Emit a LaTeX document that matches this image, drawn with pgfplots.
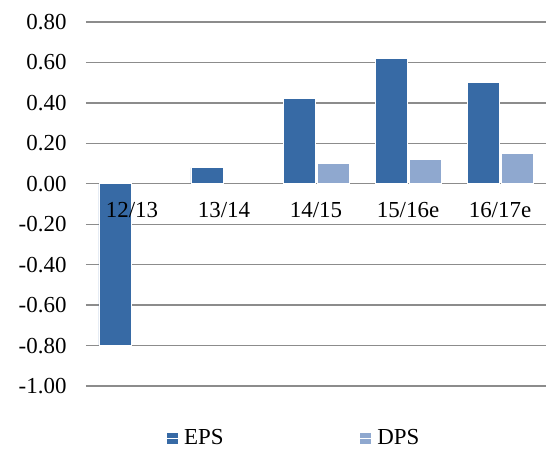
\documentclass[border=0pt]{standalone}
\usepackage{pgfplots}
\pgfplotsset{compat=1.18}
\usepackage{fontspec}
\setmainfont{Liberation Serif}
\definecolor{eps}{RGB}{55,106,165}
\definecolor{dps}{RGB}{143,168,207}
\definecolor{gridc}{RGB}{140,140,140}
\newcommand{\bigf}{\fontsize{23}{27}\selectfont}
\pgfplotsset{myframe/.style={
  anchor=south west, at={(0,0)},
  scale only axis, width=460bp, height=364bp,
  ymin=-1, ymax=0.8, xmin=-0.5, xmax=4.5,
  axis x line*=middle, axis y line*=left,
  x axis line style={draw=none}, y axis line style={draw=none},
  major tick length=0pt,
  tick label style={font=\bigf},
  /pgf/number format/assume math mode=true,
}}
\begin{document}
\begin{tikzpicture}[font=\bigf]
\useasboundingbox (-86bp,-68bp) rectangle (460bp,386bp);
\begin{axis}[
  myframe,
  ytick={-1,-0.8,...,0.81},
  xtick={0,...,4}, xticklabels={},
  ymajorgrids, grid style={gridc, line width=1.3bp},
  yticklabel={\pgfmathprintnumber[fixed,fixed zerofill,precision=2]{\tick}},
  yticklabel style={xshift=-16bp},
  ybar=2bp, bar width=32bp,
  every axis plot/.append style={draw=white, line width=0.8bp},
  legend columns=2,
  legend style={draw=none, fill=none, at={(0.452,-0.143)}, anchor=center, font=\bigf,
    /tikz/every even column/.append style={column sep=134bp}},
  legend image code/.code={\fill[#1,draw=none] (0bp,-5.5bp) rectangle (11bp,5.5bp);\path (0bp,0bp) -- (15bp,0bp);},
]
\addplot[fill=eps] coordinates {(0,-0.80) (1,0.08) (2,0.42) (3,0.62) (4,0.50)};
\addplot[fill=dps] coordinates {(2,0.10) (3,0.12) (4,0.15)};
\legend{EPS,DPS}
\end{axis}
\begin{axis}[
  myframe,
  ytick=\empty,
  xtick={0,...,4}, xticklabels={12/13,13/14,14/15,15/16e,16/17e},
  xticklabel style={anchor=north, yshift=-15bp},
]
\end{axis}
\end{tikzpicture}
\end{document}
